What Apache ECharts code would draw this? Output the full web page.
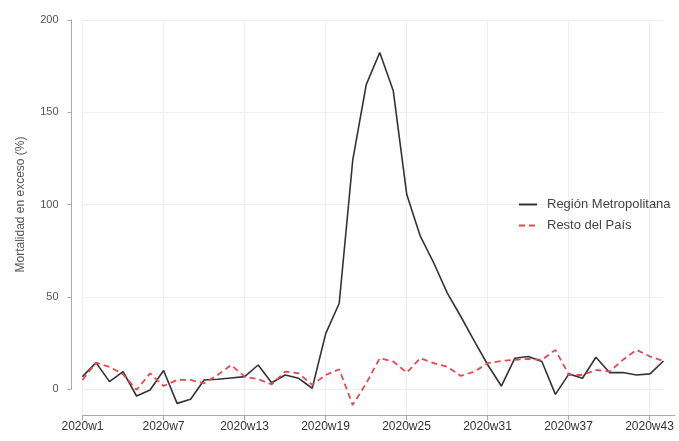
<!DOCTYPE html>
<html>
<head>
<meta charset="utf-8">
<script src="https://cdn.jsdelivr.net/npm/echarts@6/dist/echarts.min.js"></script>
<style>
  html, body { margin: 0; padding: 0; background: #fff; }
  #chart { width: 679px; height: 441px; }
</style>
</head>
<body>
<div id="chart"></div>
<script>
// semanas 2020w1 .. 2020w44
var weeks = [];
for (var w = 1; w <= 44; w++) weeks.push('2020w' + w);

var metropolitana = [6.7, 14.3, 4, 9.4, -3.8, -0.5, 10, -7.8, -5.6, 4.9,
  5.3, 6, 6.7, 13, 3.4, 7.6, 5.8, 0.4, 30, 46.5,
  124, 165, 182.4, 161.6, 105.4, 82.8, 68.3, 52, 39.3, 26,
  13, 1.6, 16.7, 17.6, 14.9, -2.9, 8.2, 5.8, 17.2, 8.9,
  8.9, 7.6, 8.2, 15.2];

var restoPais = [4.9, 14.3, 12, 8, -0.5, 8.5, 1.6, 4.9, 4.9, 3.1,
  7.6, 13, 6.7, 5.3, 2.5, 9.4, 8.5, 2.2, 7.6, 10.7,
  -8.7, 3.1, 16.7, 14.9, 8.9, 16.7, 14, 12.1, 7.1, 9.4,
  14, 15.2, 15.8, 16.3, 15.8, 21.2, 7.6, 7.6, 10.3, 9.4,
  15.8, 21.2, 17.6, 15.2];

// week index (0 = 2020w1) of labelled ticks
var xTicks = [0, 6, 12, 18, 24, 30, 36, 42];

var chart = echarts.init(document.getElementById('chart'));
var option = {
  animation: false,
  textStyle: { fontFamily: 'Arial, "Liberation Sans", sans-serif' },
  grid: [
    // grid 0: bottom x axis, runs a little past the last week
    { left: 82.5, right: 4, top: 20, bottom: 26 },
    // grid 1: y axis 0..200 and the lines
    { left: 82.5, right: 15.5, top: 20, bottom: 52 }
  ],
  legend: {
    orient: 'vertical',
    left: 513,
    top: 193,
    itemWidth: 18,
    itemHeight: 10,
    itemGap: 8,
    itemStyle: { opacity: 0 },
    textStyle: { color: '#444', fontSize: 13, padding: [0, 0, 0, 5] },
    data: ['Región Metropolitana', 'Resto del País']
  },
  xAxis: [
    {
      gridIndex: 0,
      type: 'value',
      min: 0,
      max: 43.89,
      axisLine: { show: true, lineStyle: { color: '#aaa', width: 1 } },
      axisTick: { show: true, customValues: xTicks, length: 5, lineStyle: { color: '#aaa' } },
      axisLabel: {
        customValues: xTicks,
        color: '#333',
        fontSize: 12,
        margin: 6,
        formatter: function (v) { return weeks[Math.round(v)]; }
      },
      splitLine: { show: true, lineStyle: { color: '#efefef', width: 1 } }
    },
    {
      gridIndex: 1,
      type: 'category',
      data: weeks,
      boundaryGap: false,
      show: false
    }
  ],
  yAxis: [
    {
      gridIndex: 0,
      type: 'value',
      show: false
    },
    {
      gridIndex: 1,
      type: 'value',
      min: 0,
      max: 200,
      interval: 50,
      offset: 11,
      name: 'Mortalidad en exceso (%)',
      nameLocation: 'middle',
      nameGap: 45,
      nameTextStyle: { color: '#555', fontSize: 12 },
      axisLine: { show: true, lineStyle: { color: '#aaa', width: 1 } },
      axisTick: { show: true, length: 4, lineStyle: { color: '#aaa' } },
      axisLabel: { color: '#555', fontSize: 11, margin: 13 },
      splitLine: { show: true, lineStyle: { color: '#efefef', width: 1 } }
    }
  ],
  series: [
    {
      name: 'Región Metropolitana',
      type: 'line',
      xAxisIndex: 1,
      yAxisIndex: 1,
      data: metropolitana,
      clip: false,
      symbol: 'none',
      itemStyle: { color: '#333' },
      lineStyle: { color: '#333', width: 1.6 }
    },
    {
      name: 'Resto del País',
      type: 'line',
      xAxisIndex: 1,
      yAxisIndex: 1,
      data: restoPais,
      clip: false,
      symbol: 'none',
      itemStyle: { color: '#e8474f' },
      lineStyle: { color: '#e8474f', width: 1.8, type: [6, 4] }
    }
  ]
};
chart.setOption(option);
</script>
</body>
</html>
